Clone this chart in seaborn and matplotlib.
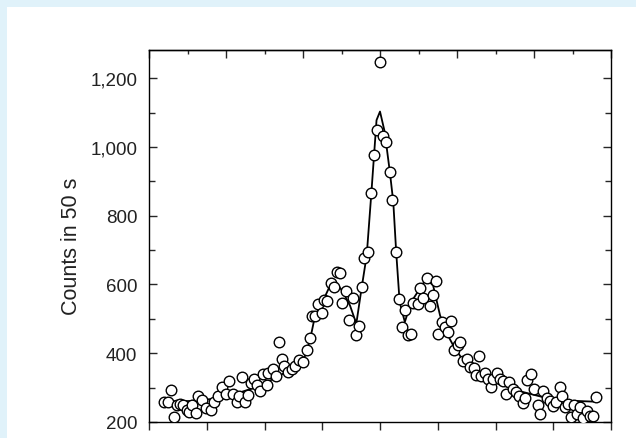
import numpy as np
import pandas as pd
import matplotlib
matplotlib.use("Agg")
import matplotlib.pyplot as plt
import seaborn as sns
from matplotlib.ticker import MultipleLocator, FuncFormatter
from matplotlib.patches import Rectangle


# measured counts (velocity in mm/s, counts in 50 s)
velocity = [
    -3.74, -3.67, -3.62, -3.57, -3.52, -3.47, -3.41, -3.35, -3.31, -3.25,
    -3.19, -3.15, -3.09, -3.02, -2.93, -2.88, -2.80, -2.73, -2.67, -2.61,
    -2.55, -2.48, -2.44, -2.39, -2.34, -2.28, -2.24, -2.18, -2.13, -2.08,
    -2.03, -1.96, -1.94, -1.86, -1.80, -1.75, -1.70, -1.66, -1.59, -1.53,
    -1.47, -1.40, -1.33, -1.27, -1.21, -1.18, -1.13, -1.07, -1.01, -0.97,
    -0.91, -0.85, -0.79, -0.75, -0.69, -0.65, -0.59, -0.53, -0.47, -0.42,
    -0.36, -0.32, -0.27, -0.20,
    -0.16, -0.10, -0.06, 0.00, 0.05, 0.11, 0.17, 0.21,
    0.28, 0.33, 0.38, 0.43, 0.48, 0.54, 0.58, 0.65, 0.69, 0.75,
    0.81, 0.87, 0.91, 0.97, 1.01, 1.07, 1.13, 1.18, 1.23, 1.29,
    1.35, 1.39, 1.44, 1.50, 1.56, 1.62, 1.66, 1.72, 1.75, 1.82,
    1.87, 1.92, 1.96, 2.02, 2.07, 2.13, 2.18, 2.24, 2.30, 2.36,
    2.41, 2.47, 2.51, 2.55, 2.62, 2.67, 2.73, 2.77, 2.83, 2.89,
    2.95, 2.99, 3.05, 3.11, 3.16, 3.21, 3.26, 3.31, 3.36, 3.41,
    3.47, 3.52, 3.58, 3.64, 3.69, 3.74,
]

counts = [
    259, 259, 293, 215, 250, 252, 248, 235, 230, 248,
    226, 277, 264, 240, 236, 259, 277, 301, 282, 318,
    282, 259, 277, 330, 257, 279, 313, 325, 308, 291,
    340, 309, 343, 355, 333, 434, 384, 362, 345, 355,
    364, 379, 374, 410, 444, 507, 507, 542, 517, 556,
    551, 605, 593, 636, 634, 546, 580, 497, 561, 452,
    478, 594, 677, 695,
    865, 978, 1049, 1246, 1033, 1013, 926, 847,
    695, 559, 476, 527, 454, 457, 546, 544, 590, 561,
    619, 536, 570, 610, 457, 491, 476, 461, 494, 410,
    424, 434, 376, 384, 359, 356, 337, 392, 335, 343,
    325, 303, 325, 343, 325, 318, 282, 316, 296, 287,
    277, 255, 269, 322, 340, 296, 250, 223, 289, 269,
    262, 246, 257, 303, 277, 245, 252, 214, 248, 223,
    243, 211, 233, 218, 218, 274,
]

# fitted curve
fit_velocity = [
    -3.74, -3.30, -2.84, -2.48, -2.13, -1.79, -1.56, -1.33, -1.21, -1.13,
    -1.01, -0.87, -0.78, -0.66, -0.52, -0.41, -0.32, -0.23, -0.15, -0.06,
    0.00, 0.08, 0.17, 0.23, 0.28, 0.34, 0.43, 0.54, 0.69, 0.80,
    0.92, 1.04, 1.16, 1.27, 1.42, 1.56, 1.79, 2.13, 2.48, 2.83,
    3.29, 3.74,
]
fit_counts = [
    260, 261, 268, 283, 302, 330, 352, 375, 440, 505,
    544, 595, 609, 583, 539, 486, 588, 685, 865, 1078,
    1103, 1045, 928, 840, 695, 549, 491, 549, 588, 617,
    597, 510, 457, 422, 384, 359, 335, 306, 287, 272,
    262, 259,
]

df = pd.DataFrame({"velocity": velocity, "counts": counts})
fit = pd.DataFrame({"velocity": fit_velocity, "counts": fit_counts})

sns.set_style("white")
plt.rcParams["font.family"] = ["Liberation Sans", "DejaVu Sans"]

fig = plt.figure(figsize=(6.36, 4.39), dpi=100, facecolor="#e0f2fa")
fig.patches.append(Rectangle((7 / 636, 0), 1, 1 - 8 / 439,
                             transform=fig.transFigure, facecolor="white",
                             edgecolor="none", zorder=-10))

ax = fig.add_axes([149 / 636, 16 / 439, 462 / 636, 372 / 439])
ax.set_facecolor("white")

sns.lineplot(data=fit, x="velocity", y="counts", sort=False, estimator=None,
             color="black", linewidth=1.3, ax=ax, zorder=2)
sns.scatterplot(data=df, x="velocity", y="counts", marker="o", s=58,
                facecolor="white", edgecolor="black", linewidth=1.0,
                ax=ax, zorder=3)

ax.set_xlim(-4, 4)
ax.set_ylim(200, 1282)

for sp in ax.spines.values():
    sp.set_color("black")
    sp.set_linewidth(1.0)

# bottom: outward ticks, labels fall outside the crop
ax.xaxis.set_major_locator(MultipleLocator(1))
ax.tick_params(axis="x", which="major", direction="out", length=6, width=1.0,
               bottom=True, top=False, labelbottom=False)

# top: second scale with long/short inward ticks
sec = ax.secondary_xaxis("top", functions=(lambda v: v * 1.5, lambda u: u / 1.5))
sec.xaxis.set_major_locator(MultipleLocator(2))
sec.xaxis.set_minor_locator(MultipleLocator(1))
sec.tick_params(which="major", direction="in", length=5.5, width=1.0, labeltop=False)
sec.tick_params(which="minor", direction="in", length=2.6, width=1.0)
sec.spines["top"].set_linewidth(1.0)

ax.yaxis.set_major_locator(MultipleLocator(200))
ax.yaxis.set_minor_locator(MultipleLocator(100))
ax.yaxis.set_major_formatter(FuncFormatter(lambda v, p: f"{int(v):,}"))
ax.tick_params(axis="y", which="major", direction="in", length=5.8, width=1.0,
               left=True, right=True, labelsize=13.5, labelcolor="#222222", pad=8.5)
ax.tick_params(axis="y", which="minor", direction="in", length=4.2, width=1.0,
               left=True, right=True)

ax.set_xlabel("")
ax.set_ylabel("Counts in 50 s", fontsize=15.5, color="#222222")
ax.yaxis.set_label_coords(-0.145, 0.476)

fig.savefig("out.png", dpi=100, facecolor=fig.get_facecolor())
